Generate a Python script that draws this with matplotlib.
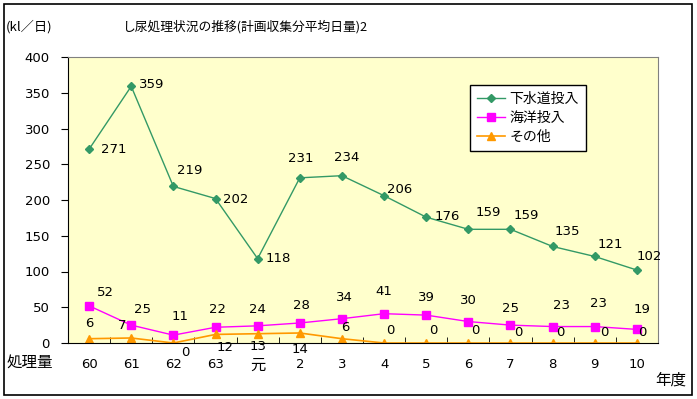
import matplotlib
matplotlib.use("Agg")
import matplotlib.pyplot as plt
from matplotlib.patches import Rectangle

plt.rcParams['font.family'] = ['Noto Sans CJK JP', 'DejaVu Sans']

years = ['60', '61', '62', '63', '元', '2', '3', '4', '5', '6', '7', '8', '9', '10']
sewer = [271, 359, 219, 202, 118, 231, 234, 206, 176, 159, 159, 135, 121, 102]
ocean = [52, 25, 11, 22, 24, 28, 34, 41, 39, 30, 25, 23, 23, 19]
other = [6, 7, 0, 12, 13, 14, 6, 0, 0, 0, 0, 0, 0, 0]
series_names = ['下水道投入', '海洋投入', 'その他']
yticks = [0, 50, 100, 150, 200, 250, 300, 350, 400]

# label offsets in pixels (style, not data)
off_sewer = [(25, 0), (20, 2), (16, 16), (20, -1), (21, 0), (1, 19), (5, 18), (16, 6), (21, 1),
             (20, 17), (16, 14), (15, 15), (16, 12), (12, 14)]
off_ocean = [(16, 13), (11, 16), (7, 19), (2, 18), (0, 16), (2, 17), (2, 21), (0, 22), (0, 18),
             (0, 21), (0, 17), (9, 21), (4, 23), (5, 20)]
off_other = [(0, 15), (-9, 12), (12, -10), (10, -13), (0, -13), (0, -17), (3, 11), (6, 13),
             (7, 13), (7, 13), (8, 11), (8, 11), (10, 11), (5, 10)]

W, H = 697, 399
fig = plt.figure(figsize=(W / 100, H / 100), dpi=100)
fig.patch.set_facecolor('white')
fig.patches.append(Rectangle((4 / W, 4 / H), 688 / W, 391 / H, transform=fig.transFigure,
                             fill=False, edgecolor='black', linewidth=1.2))

ax = fig.add_axes([68 / W, 1 - 343 / H, 590 / W, 286 / H])
ax.set_facecolor('#FFFFCC')
x = [float(i) for i in range(len(years))]

ax.plot(x, sewer, color='#339966', marker='D', markersize=4.5, linewidth=1, label=series_names[0])
ax.plot(x, ocean, color='#FF00FF', marker='s', markersize=6, linewidth=1, label=series_names[1])
ax.plot(x, other, color='#FF9900', marker='^', markersize=6, linewidth=1.2, label=series_names[2])

for vals, offs in ((sewer, off_sewer), (ocean, off_ocean), (other, off_other)):
    for xi, v, (dx, dy) in zip(x, vals, offs):
        ax.annotate(str(v), (xi, v), xytext=(dx, dy), textcoords='offset pixels',
                    ha='center', va='center', fontsize=9.5, family='DejaVu Sans')

ax.set_xlim(-0.5, len(years) - 0.5)
ax.set_ylim(0, 400)
ax.set_yticks(yticks)
ax.set_yticklabels([str(t) for t in yticks], fontsize=9.5, family='DejaVu Sans')
ax.tick_params(axis='y', direction='out', length=5, pad=8)
ax.set_xticks(x)
ax.set_xticklabels(years, fontsize=9.5, family=['DejaVu Sans', 'Noto Sans CJK JP'])
for lab in ax.get_xticklabels():
    if lab.get_text() == '元':
        lab.set_fontsize(11)
ax.set_xticks([i + 0.5 for i in range(len(years) - 1)], minor=True)
ax.tick_params(axis='x', which='major', length=0, pad=11)
ax.tick_params(axis='x', which='minor', direction='in', length=4)
for s in ('top', 'right'):
    ax.spines[s].set_color('#808080')
for s in ('left', 'bottom'):
    ax.spines[s].set_color('black')

leg = ax.legend(loc='upper left', bbox_to_anchor=((470 - 68) / 590, 1 - (85 - 57) / 286),
                frameon=True, fancybox=False, edgecolor='black', framealpha=1,
                fontsize=10, handlelength=2.0, borderpad=0.5, labelspacing=0.35,
                handletextpad=0.35, borderaxespad=0)
leg.get_frame().set_linewidth(1)

fig.text(246 / W, 1 - 27 / H, 'し尿処理状況の推移(計画収集分平均日量)2', ha='center', va='center',
         fontsize=9.2)
fig.text(6 / W, 1 - 27 / H, '(kl／日)', ha='left', va='center', fontsize=9.5)
fig.text(7 / W, 1 - 363 / H, '処理量', ha='left', va='center', fontsize=11.2)
fig.text(655 / W, 1 - 380 / H, '年度', ha='left', va='center', fontsize=11.2)

fig.savefig('out.png', dpi=100)
